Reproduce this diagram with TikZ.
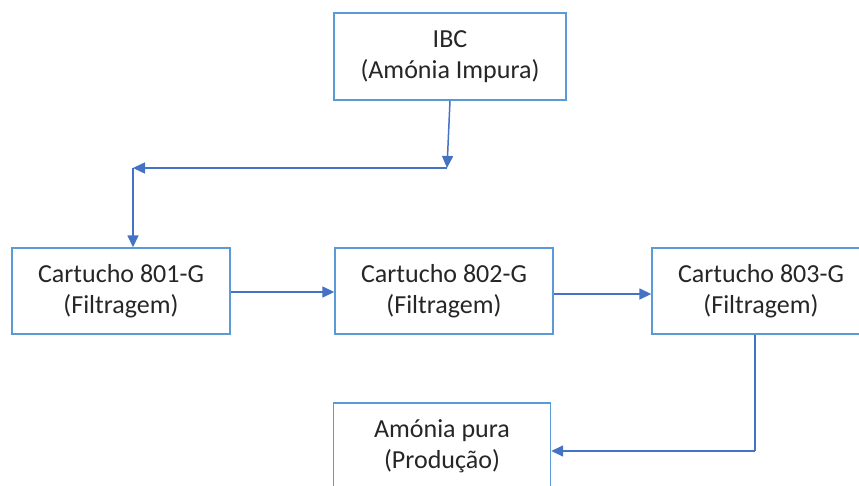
\documentclass[tikz,border=0pt]{standalone}
\usepackage{fontspec}
\setmainfont{Carlito}
\usetikzlibrary{arrows.meta}
\definecolor{boxc}{HTML}{5B9BD5}
\definecolor{arrc}{HTML}{4472C4}
\definecolor{txtc}{HTML}{262626}
\begin{document}
\begin{tikzpicture}[x=1pt,y=-1pt,
  box/.style={draw=boxc,line width=1.4pt,fill=white,minimum width=#1,inner sep=0pt,align=center,text=txtc,font=\fontsize{26}{31}\selectfont},
  box/.default=218pt,
  conn/.style={draw=arrc,line width=1.5pt,-{Triangle[length=12pt,width=11pt]}},
  seg/.style={draw=arrc,line width=1.5pt}]
\useasboundingbox (0,0) rectangle (859,485);
\node[box=232pt,minimum height=87pt] (ibc) at (450,56.5) {IBC\\(Amónia Impura)};
\node[box,minimum height=86pt] (c1) at (121,291) {Cartucho 801-G\\(Filtragem)};
\node[box,minimum height=86pt] (c2) at (444,291) {Cartucho 802-G\\(Filtragem)};
\node[box,minimum height=86pt] (c3) at (761,291) {Cartucho 803-G\\(Filtragem)};
\node[box=217pt,minimum height=86pt] (p) at (442,446) {Amónia pura\\(Produção)};
\coordinate (j1) at (447,168);
\coordinate (j2) at (133,168);
\coordinate (j3) at (755,451);
\draw[conn] (ibc.south) -- (j1);
\draw[conn] (j1) -- (j2);
\draw[conn] (j2) -- (j2 |- c1.north);
\draw[conn] (c1.east |- 0,292) -- (c2.west |- 0,292);
\draw[conn] (c2.east |- 0,294) -- (c3.west |- 0,294);
\draw[seg] (j3 |- c3.south) -- (j3);
\draw[conn] (j3) -- (j3 -| p.east);
\end{tikzpicture}
\end{document}
